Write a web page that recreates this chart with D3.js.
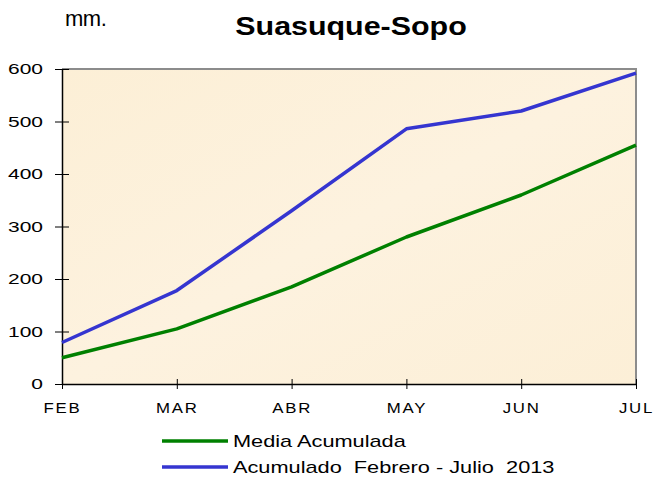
<!DOCTYPE html>
<html><head><meta charset="utf-8">
<script src="https://cdn.jsdelivr.net/npm/d3@7"></script>
<style>body{margin:0;background:#fff}svg{display:block}text{font-family:"Liberation Sans",Arial,sans-serif}</style>
</head><body>
<script>
const months = ["FEB","MAR","ABR","MAY","JUN","JUL"];
const media = [50, 105, 185, 280, 360, 455];
const acumulado = [79, 178, 330, 486, 520, 592];
const yTicks = [0,100,200,300,400,500,600];
const seriesNames = ["Media Acumulada","Acumulado  Febrero - Julio  2013"];
const colors = ["#008000","#3535d0"];

const W=655,H=479;
const svg=d3.select("body").append("svg").attr("width",W).attr("height",H);
const m={l:62,r:636,t:69,b:384};
const x=d3.scalePoint().domain(months).range([m.l,m.r]);
const y=d3.scaleLinear().domain([0,600]).range([m.b,m.t]);

const defs=svg.append("defs");
const g=defs.append("linearGradient").attr("id","bg").attr("x1","0").attr("y1","0").attr("x2","1").attr("y2","1");
g.append("stop").attr("offset","0").attr("stop-color","#fcefd6");
g.append("stop").attr("offset","0.5").attr("stop-color","#fdf2df");
g.append("stop").attr("offset","1").attr("stop-color","#fcefd7");
svg.append("rect").attr("x",m.l).attr("y",m.t).attr("width",m.r-m.l).attr("height",m.b-m.t).attr("fill","url(#bg)");
svg.append("path").attr("d",`M${m.l},${m.t}H${m.r}V${m.b}`).attr("fill","none").attr("stroke","#8c8c8c").attr("stroke-width",2);

// axes
const yAxis=svg.append("g").attr("transform",`translate(${m.l},0)`)
  .call(d3.axisLeft(y).tickValues(yTicks).tickSize(0));
yAxis.attr("font-family",null).attr("font-size",null);
yAxis.select(".domain").attr("stroke","#000").attr("stroke-width",1.5);
yAxis.selectAll(".tick line").remove();
yAxis.selectAll(".tick").append("line").attr("x1",-7).attr("x2",7).attr("stroke","#000");
yAxis.selectAll("text").attr("font-size",15).attr("fill","#000")
  .attr("x",-19/1.4).attr("transform","scale(1.4,1)");

const xAxis=svg.append("g").attr("transform",`translate(0,${m.b})`)
  .call(d3.axisBottom(x).tickSize(0).tickPadding(19));
xAxis.attr("font-family",null).attr("font-size",null);
xAxis.select(".domain").attr("stroke","#000").attr("stroke-width",1.5);
xAxis.selectAll(".tick line").remove();
xAxis.selectAll(".tick").append("line").attr("y1",-5).attr("y2",5).attr("stroke","#000");
xAxis.selectAll("text").attr("font-size",14).attr("fill","#000").attr("letter-spacing",1.5)
  .attr("transform","scale(1.2,1)");

const line=d3.line().x((d,i)=>x(months[i])).y(d=>y(d));
[media,acumulado].forEach((s,k)=>{
  svg.append("path").datum(s).attr("d",line).attr("fill","none")
    .attr("stroke",colors[k]).attr("stroke-width",3.5).attr("stroke-linejoin","round");
});

svg.append("g").attr("transform","translate(351,35) scale(1.17,1)")
  .append("text").attr("text-anchor","middle")
  .attr("font-size",26).attr("font-weight","bold").text("Suasuque-Sopo");
svg.append("text").attr("x",65).attr("y",26).attr("font-size",22).attr("letter-spacing",-0.5).text("mm.");

// legend
seriesNames.forEach((n,k)=>{
  const yy=441+k*26;
  svg.append("line").attr("x1",162).attr("x2",228).attr("y1",yy).attr("y2",yy)
    .attr("stroke",colors[k]).attr("stroke-width",3.5);
  svg.append("g").attr("transform",`translate(233,${yy+6}) scale(1.36,1)`)
    .append("text").attr("font-size",16)
    .style("white-space","pre").text(n);
});
</script>
</body></html>
